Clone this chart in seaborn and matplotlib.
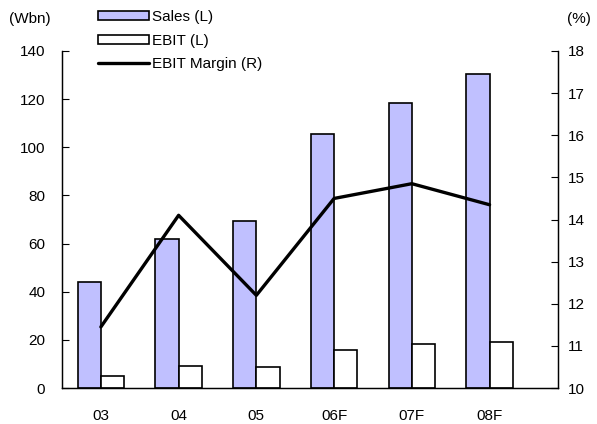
import matplotlib
matplotlib.use("Agg")
import matplotlib.pyplot as plt
from matplotlib.patches import Patch
from matplotlib.lines import Line2D
import numpy as np
import pandas as pd
import seaborn as sns

# values
years = ["03", "04", "05", "06F", "07F", "08F"]
sales = [44, 62, 69.5, 105.5, 118.5, 130.5]
ebit = [5, 9.3, 8.7, 15.8, 18.2, 19]
ebit_margin = [11.45, 14.1, 12.2, 14.5, 14.85, 14.35]

sns.set_style("white")
plt.rcParams["font.family"] = ["Liberation Sans", "DejaVu Sans"]
plt.rcParams["text.color"] = "black"
plt.rcParams["xtick.color"] = "black"
plt.rcParams["ytick.color"] = "black"

df = pd.DataFrame({
    "year": years * 2,
    "value": sales + ebit,
    "series": ["Sales (L)"] * len(years) + ["EBIT (L)"] * len(years),
})

fig = plt.figure(figsize=(5.97, 4.24), dpi=100)
ax = fig.add_axes([62 / 597, 1 - 388 / 424, (558 - 62) / 597, (388 - 51) / 424])

sales_color = "#C0C0FF"
sns.barplot(
    data=df, x="year", y="value", hue="series",
    palette={"Sales (L)": sales_color, "EBIT (L)": "white"},
    saturation=1, edgecolor="black", linewidth=1.2, width=0.6, gap=0,
    legend=False, ax=ax,
)
ax.set_ylim(0, 140)
ax.set_yticks(np.arange(0, 141, 20))
ax.set_xlim(-0.5, 5.88)
ax.set_xlabel("")
ax.set_ylabel("")
ax.set_xticks(np.arange(len(years)))
ax.set_xticklabels(years)
ax.set_xticks(np.arange(len(years) - 1) + 0.5, minor=True)
ax.tick_params(axis="x", which="major", length=0, pad=15, labelsize=11)
ax.tick_params(axis="x", which="minor", direction="in", length=5, width=0.8, color="black")
ax.tick_params(axis="y", direction="in", length=5, width=0.8, color="black", pad=12, labelsize=11, left=True)

ax2 = ax.twinx()
sns.lineplot(x=np.arange(len(years)), y=ebit_margin, color="black", linewidth=2.4, ax=ax2)
ax2.set_ylim(10, 18)
ax2.set_yticks(np.arange(10, 19, 1))
ax2.tick_params(axis="y", direction="in", length=5, width=0.8, color="black", pad=7, labelsize=11, right=True)

for a in (ax, ax2):
    a.spines["top"].set_visible(False)
    for s in ("left", "right", "bottom"):
        a.spines[s].set_color("black")
        a.spines[s].set_linewidth(0.9)

fig.text(9 / 597, 1 - 19 / 424, "(Wbn)", fontsize=11, va="center", ha="left")
fig.text(591 / 597, 1 - 19 / 424, "(%)", fontsize=11, va="center", ha="right")

handles = [
    Patch(facecolor=sales_color, edgecolor="black", linewidth=1.2),
    Patch(facecolor="white", edgecolor="black", linewidth=1.2),
    Line2D([0], [0], color="black", linewidth=2.4),
]
labels = ["Sales (L)", "EBIT (L)", "EBIT Margin (R)"]
fig.legend(
    handles, labels, loc="upper left", bbox_to_anchor=(92 / 597, 1 - 4 / 424),
    frameon=False, fontsize=11, handlelength=3.3, handleheight=0.5,
    handletextpad=0.2, labelspacing=0.62, borderaxespad=0,
)

fig.savefig("out.png", dpi=100)
